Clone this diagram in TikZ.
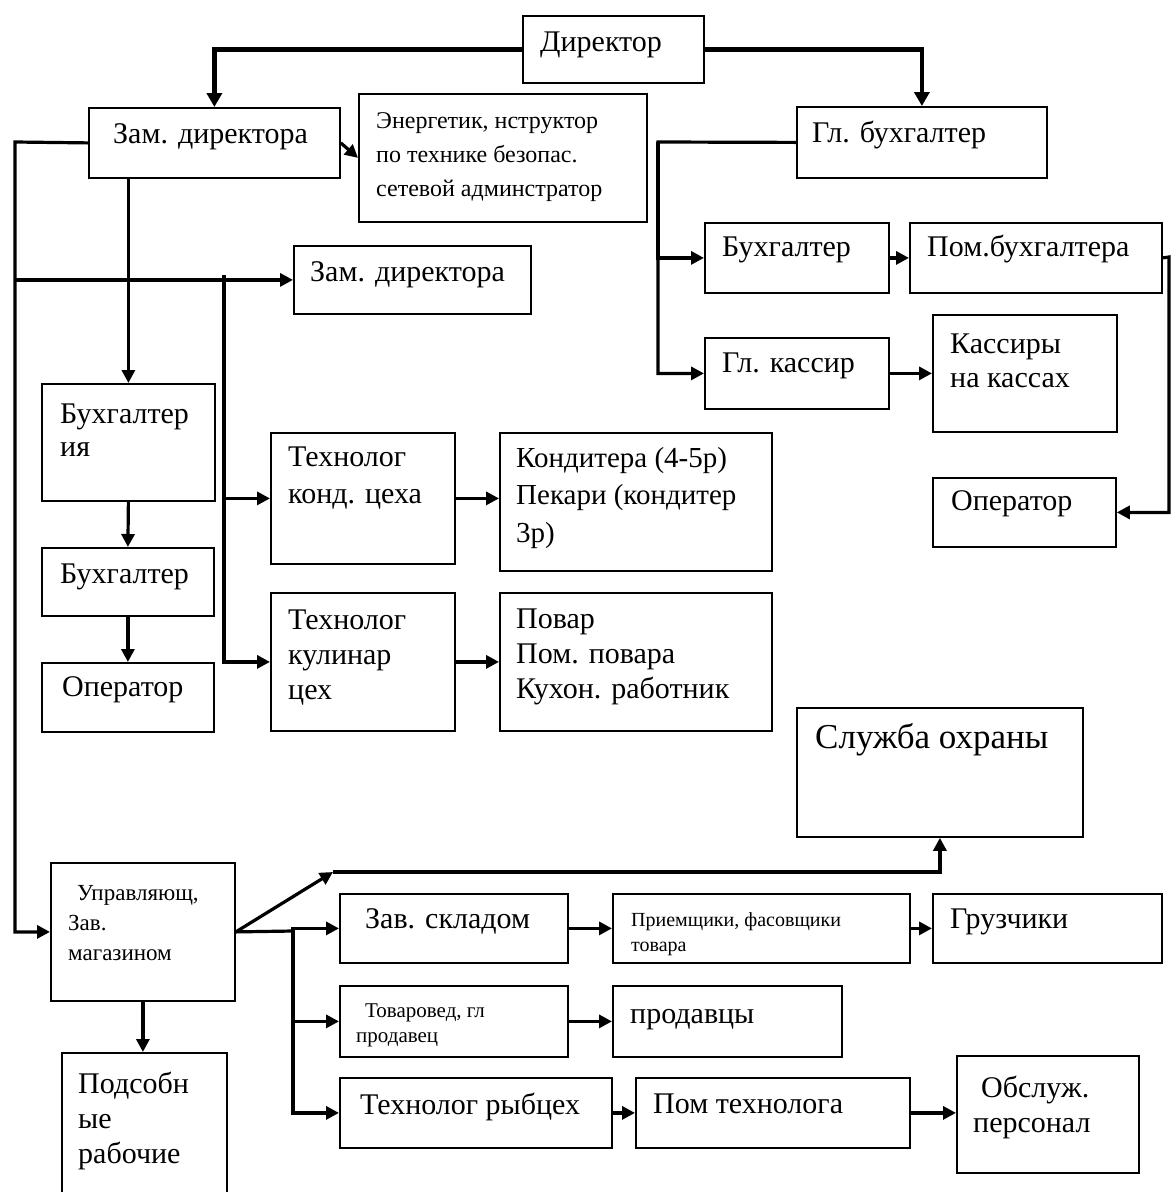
\documentclass[tikz,border=0pt]{standalone}
\usepackage{fontspec}
\setmainfont{Liberation Serif}
\usetikzlibrary{arrows.meta}
\begin{document}
\begin{tikzpicture}[x=1pt,y=-1pt,
  box/.style={draw, line width=1.8pt, inner sep=0pt, anchor=north west},
  lbl/.style={inner sep=0pt, anchor=mid west, yshift=-4pt, font=\fontsize{30}{36}\selectfont},
  blk/.style={inner sep=0pt, anchor=north west, yshift=-3pt, align=left},
  link/.style={line width=3.2pt, -{Triangle[length=13pt,width=13pt]}},
  mainlink/.style={line width=4.5pt, -{Triangle[length=14pt,width=15pt]}},
  wire/.style={line width=3.2pt}]
\clip (0,0) rectangle (1171,1192);
\fill[white] (0,0) rectangle (1171,1192);

% ---------- boxes ----------
\node[box, minimum width=181pt, minimum height=67pt]  (dir)   at (522,15)  {};
\node[box, minimum width=251pt, minimum height=70pt]  (zd1)   at (88,107)  {};
\node[box, minimum width=288pt, minimum height=128pt] (energ) at (358,93)  {};
\node[box, minimum width=250pt, minimum height=71pt]  (gb)    at (796,106) {};
\node[box, minimum width=237pt, minimum height=68pt]  (zd2)   at (293,245) {};
\node[box, minimum width=184pt, minimum height=70pt]  (buh)   at (704,222) {};
\node[box, minimum width=252pt, minimum height=70pt]  (pb)    at (909,222) {};
\node[box, minimum width=184pt, minimum height=71pt]  (kas)   at (704,337) {};
\node[box, minimum width=184pt, minimum height=117pt] (kassy) at (932,314) {};
\node[box, minimum width=183pt, minimum height=69pt]  (op2)   at (932,477) {};
\node[box, minimum width=173pt, minimum height=117pt] (buhia) at (41,383)  {};
\node[box, minimum width=172pt, minimum height=68pt]  (buh2)  at (41,547)  {};
\node[box, minimum width=172pt, minimum height=69pt]  (op1)   at (41,662)  {};
\node[box, minimum width=184pt, minimum height=131pt] (tk1)   at (270,432) {};
\node[box, minimum width=272pt, minimum height=138pt] (kond)  at (499,432) {};
\node[box, minimum width=184pt, minimum height=138pt] (tk2)   at (270,592) {};
\node[box, minimum width=272pt, minimum height=138pt] (povar) at (499,592) {};
\node[box, minimum width=286pt, minimum height=129pt] (ohr)   at (796,707) {};
\node[box, minimum width=184pt, minimum height=138pt] (upr)   at (50,862)  {};
\node[box, minimum width=165pt, minimum height=150pt] (pods)  at (61,1052) {};
\node[box, minimum width=228pt, minimum height=69pt]  (zs)    at (339,893) {};
\node[box, minimum width=297pt, minimum height=69pt]  (pri)   at (612,893) {};
\node[box, minimum width=229pt, minimum height=69pt]  (gruz)  at (932,893) {};
\node[box, minimum width=228pt, minimum height=71pt]  (tov)   at (339,985) {};
\node[box, minimum width=229pt, minimum height=71pt]  (prod)  at (612,985) {};
\node[box, minimum width=272pt, minimum height=70pt]  (trc)   at (339,1077) {};
\node[box, minimum width=274pt, minimum height=70pt]  (pt)    at (635,1077) {};
\node[box, minimum width=182pt, minimum height=117pt] (obs)   at (956,1055) {};

% ---------- texts ----------
\node[lbl] (dir-t)  at (540,45)  {Директор};
\node[lbl] (zd1-t)  at (113,137) {Зам. директора};
\node[blk, font=\fontsize{24}{34}\selectfont] (energ-t) at (376,109)
  {Энергетик, нструктор\\по технике безопас.\\сетевой админстратор};
\node[lbl] (zd2-t)  at (310,275) {Зам. директора};
\node[lbl] (gb-t)   at (812,136) {Гл. бухгалтер};
\node[lbl] (buh-t)  at (722,250) {Бухгалтер};
\node[lbl] (pb-t)   at (927,250) {Пом.бухгалтера};
\node[lbl] (kas-t)  at (722,366) {Гл. кассир};
\node[blk, font=\fontsize{30}{34}\selectfont] (kassy-t) at (950,331)
  {Кассиры\\на кассах};
\node[lbl] (op2-t)  at (951,504) {Оператор};
\node[blk, font=\fontsize{30}{33}\selectfont] (buhia-t) at (60,401)
  {Бухгалтер\\ия};
\node[lbl] (buh2-t) at (60,577)  {Бухгалтер};
\node[lbl] (op1-t)  at (62,690)  {Оператор};
\node[blk, font=\fontsize{30}{37}\selectfont] (tk1-t) at (288,444)
  {Технолог\\конд. цеха};
\node[blk, font=\fontsize{29}{37.5}\selectfont] (kond-t) at (516,444)
  {Кондитера (4-5р)\\Пекари (кондитер\\3р)};
\node[blk, font=\fontsize{30}{35}\selectfont] (tk2-t) at (288,607)
  {Технолог\\кулинар\\цех};
\node[blk, font=\fontsize{30}{35}\selectfont] (povar-t) at (516,606)
  {Повар\\Пом. повара\\Кухон. работник};
\node[lbl, font=\fontsize{35}{40}\selectfont] (ohr-t) at (815,742) {Служба охраны};
\node[blk, font=\fontsize{23}{30}\selectfont] (upr-t) at (68,882)
  {\hspace*{9pt}Управляющ,\\Зав.\\магазином};
\node[lbl]  (zs-t)  at (365,922) {Зав. складом};
\node[blk, font=\fontsize{20}{25}\selectfont] (pri-t) at (631,909)
  {Приемщики, фасовщики\\товара};
\node[lbl]  (gruz-t) at (950,922) {Грузчики};
\node[blk, font=\fontsize{21}{25}\selectfont] (tov-t) at (356,1001)
  {\hspace*{9pt}Товаровед, гл\\продавец};
\node[lbl]  (prod-t) at (630,1017) {продавцы};
\node[lbl]  (trc-t)  at (360,1108) {Технолог рыбцех};
\node[lbl]  (pt-t)   at (653,1107) {Пом технолога};
\node[blk, font=\fontsize{30}{35}\selectfont] (obs-t) at (973,1073)
  {\hspace*{8pt}Обслуж.\\персонал};
\node[blk, font=\fontsize{30}{35}\selectfont] (pods-t) at (78,1069)
  {Подсобн\\ые\\рабочие};

% ---------- connectors ----------
\coordinate (lspine) at (15,142);
\coordinate (tap)    at (224,275);
\coordinate (gbx)    at (658,142);
\coordinate (rx)     at (1169,257);
\coordinate (kink)   at (333,872);
\coordinate (fork)   at (293,931);

\draw[mainlink] (dir.west) -| (zd1.north);
\draw[mainlink] (dir.east) -| (gb.north);

\draw[link] (zd1.east) -- (energ.west);
\draw[link] (zd1.west) -- (lspine) |- (upr.west);
\draw[link] (lspine |- zd2.west) -- (zd2.west);
\draw[link] (zd1.south -| buhia.north) -- (buhia.north);
\draw[link] (buhia.south) -- (buh2.north);
\draw[link] (buh2.south) -- (op1.north);

\draw[link] (tap) |- (tk1.west);
\draw[link] (tap) |- (tk2.west);
\draw[link] (tk1.east) -- (tk1.east -| kond.west);
\draw[link] (tk2.east) -- (povar.west);

\draw[link] (gb.west) -- (gbx) |- (kas.west);
\draw[link] (gbx) |- (buh.west);
\draw[link] (buh.east) -- (pb.west);
\draw[link] (kas.east) -- (kassy.west);
\draw[link] (pb.east) -- (rx) |- (op2.east);

\draw[link] (upr.east) -- (kink);
\draw[link] (kink) -| (ohr.south);
\draw[wire] (upr.east) -- (fork);
\draw[link] (fork) |- (zs.west);
\draw[link] (fork) |- (tov.west);
\draw[link] (fork) |- (trc.west);
\draw[link] (zs.east) -- (pri.west);
\draw[link] (pri.east) -- (gruz.west);
\draw[link] (tov.east) -- (prod.west);
\draw[link] (trc.east) -- (pt.west);
\draw[link] (pt.east) -- (obs.west |- pt.east);
\draw[link] (upr.south) -- (upr.south |- pods.north);
\end{tikzpicture}
\end{document}
